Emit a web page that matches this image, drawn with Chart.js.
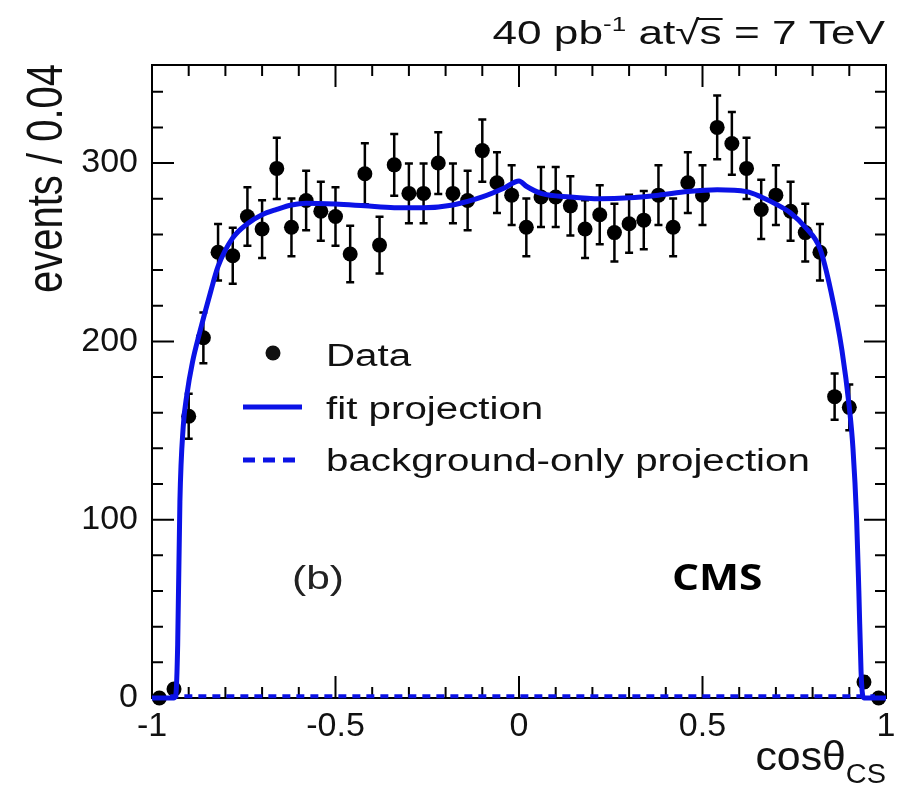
<!DOCTYPE html>
<html>
<head>
<meta charset="utf-8">
<style>
  html, body { margin: 0; padding: 0; background: #fff; }
  canvas { display: block; }
</style>
<script src="https://cdn.jsdelivr.net/npm/chart.js@4.4.1/dist/chart.umd.min.js"></script>
</head>
<body>
<canvas id="c" width="919" height="789"></canvas>
<script>
// ---- data ----
var binCenters = [-0.98, -0.94, -0.90, -0.86, -0.82, -0.78, -0.74, -0.70, -0.66, -0.62,
                  -0.58, -0.54, -0.50, -0.46, -0.42, -0.38, -0.34, -0.30, -0.26, -0.22,
                  -0.18, -0.14, -0.10, -0.06, -0.02, 0.02, 0.06, 0.10, 0.14, 0.18,
                  0.22, 0.26, 0.30, 0.34, 0.38, 0.42, 0.46, 0.50, 0.54, 0.58,
                  0.62, 0.66, 0.70, 0.74, 0.78, 0.82, 0.86, 0.90, 0.94, 0.98];
var dataEvents = [0, 5, 158, 202, 250, 248, 270, 263, 297, 264,
                  279, 273, 270, 249, 294, 254, 299, 283, 283, 300,
                  283, 279, 307, 289, 282, 264, 281, 281, 276, 263,
                  271, 261, 266, 268, 282, 264, 289, 282, 320, 311,
                  297, 274, 282, 273, 261, 250, 169, 163, 9, 0];
var dataErrors = [0, 2.2, 12.6, 14.2, 15.8, 15.7, 16.4, 16.2, 17.2, 16.2,
                  16.7, 16.5, 16.4, 15.8, 17.1, 15.9, 17.3, 16.8, 16.8, 17.3,
                  16.8, 16.7, 17.5, 17.0, 16.8, 16.2, 16.8, 16.8, 16.6, 16.2,
                  16.5, 16.2, 16.3, 16.4, 16.8, 16.2, 17.0, 16.8, 17.9, 17.6,
                  17.2, 16.6, 16.8, 16.5, 16.2, 15.8, 13.0, 12.8, 3.0, 0];

var fitX = [-1, -0.94, -0.935, -0.93, -0.924, -0.915, -0.905, -0.89, -0.87, -0.84, -0.82,
            -0.78, -0.74, -0.70, -0.66, -0.62, -0.58, -0.50, -0.42, -0.34, -0.26,
            -0.18, -0.10, -0.04, 0, 0.02, 0.06, 0.14, 0.22, 0.30, 0.38,
            0.46, 0.54, 0.62, 0.66, 0.70, 0.74, 0.78, 0.82, 0.85, 0.88,
            0.90, 0.91, 0.92, 0.926, 0.932, 0.936, 0.94, 1];
var fitY = [0, 0, 2, 30, 110, 152, 170, 188, 205, 228, 242,
            258, 266, 271, 274, 276.5, 277.5, 277, 276, 275, 275,
            276.5, 281, 286, 290, 287, 283, 281, 280, 280.5, 282,
            284, 285, 284, 281, 277, 272, 264, 252, 228, 195,
            163, 140, 100, 60, 15, 2, 0, 0];

var bgX = [-0.95, 0.97];
var bgY = [1, 1];

var xTicks = [-1, -0.5, 0, 0.5, 1];
var yTicks = [0, 100, 200, 300];

var BLUE = '#0b12e6';
var FONT = '"Liberation Sans", Arial, Helvetica, sans-serif';

function pts(xs, ys) {
    return xs.map(function(x, i) { return { x: x, y: ys[i] }; });
}

// text drawn a bit wider than the font, as in the original figure
function wideText(ctx, text, x, y, font, sx) {
    ctx.save();
    ctx.font = font;
    ctx.translate(x, y);
    ctx.scale(sx, 1);
    ctx.fillText(text, 0, 0);
    var w = ctx.measureText(text).width * sx;
    ctx.restore();
    return w;
}
function textWidth(ctx, text, font, sx) {
    ctx.font = font;
    return ctx.measureText(text).width * sx;
}

// ---- frame, inner ticks, error bars, texts ----
var rootStyle = {
    id: 'rootStyle',
    beforeDatasetsDraw: function(chart) {
        var ctx = chart.ctx, a = chart.chartArea;
        var xs = chart.scales.x, ys = chart.scales.y;
        ctx.save();
        ctx.strokeStyle = '#000';
        ctx.lineWidth = 2;
        ctx.strokeRect(a.left, a.top, a.right - a.left, a.bottom - a.top);
        ctx.beginPath();
        for (var i = 0; i <= 20; i++) {
            var px = xs.getPixelForValue(-1 + i * 0.1);
            var len = (i % 5 === 0) ? 22 : 11;
            ctx.moveTo(px, a.bottom); ctx.lineTo(px, a.bottom - len);
            ctx.moveTo(px, a.top); ctx.lineTo(px, a.top + len);
        }
        for (var j = 0; j * 20 <= ys.max; j++) {
            var py = ys.getPixelForValue(j * 20);
            var l2 = (j % 5 === 0) ? 22 : 11;
            ctx.moveTo(a.left, py); ctx.lineTo(a.left + l2, py);
            ctx.moveTo(a.right, py); ctx.lineTo(a.right - l2, py);
        }
        ctx.stroke();

        // error bars
        ctx.lineWidth = 2.5;
        ctx.beginPath();
        binCenters.forEach(function(x, k) {
            var e = dataErrors[k];
            if (!e) return;
            var cx = xs.getPixelForValue(x);
            var y1 = ys.getPixelForValue(dataEvents[k] - e);
            var y2 = ys.getPixelForValue(dataEvents[k] + e);
            ctx.moveTo(cx, y1); ctx.lineTo(cx, y2);
            ctx.moveTo(cx - 4, y1); ctx.lineTo(cx + 4, y1);
            ctx.moveTo(cx - 4, y2); ctx.lineTo(cx + 4, y2);
        });
        ctx.stroke();
        ctx.restore();
    },
    afterDraw: function(chart) {
        var ctx = chart.ctx;
        ctx.save();
        ctx.fillStyle = '#111';
        ctx.textBaseline = 'alphabetic';
        var SX = 1.3;

        // top label: 40 pb^-1 at sqrt(s) = 7 TeV
        var big = '34px ' + FONT, small = '20px ' + FONT;
        var parts = [
            { t: '40 pb', f: big, dy: 0 },
            { t: '-1', f: small, dy: -13 },
            { t: ' at', f: big, dy: 0 },
            { t: '\u221A', f: big, dy: 0, sqrt: true },
            { t: 's = 7 TeV', f: big, dy: 0 }
        ];
        var total = 0;
        parts.forEach(function(p) { p.w = textWidth(ctx, p.t, p.f, SX); total += p.w; });
        var x = 885 - total, base = 44;
        parts.forEach(function(p) {
            wideText(ctx, p.t, x, base + p.dy, p.f, SX);
            if (p.sqrt) {
                var sw = textWidth(ctx, 's', big, SX);
                ctx.fillRect(x + p.w - 2, base - 26, sw + 3, 2);
            }
            x += p.w;
        });

        // x title cos(theta)_CS
        var tf = '40px ' + FONT, sf = '27px ' + FONT;
        var w1 = textWidth(ctx, 'cos\u03B8', tf, 1.07);
        var w2 = textWidth(ctx, 'CS', sf, 1.07);
        var xs0 = 886 - w1 - w2;
        wideText(ctx, 'cos\u03B8', xs0, 770, tf, 1.07);
        wideText(ctx, 'CS', xs0 + w1, 783, sf, 1.07);

        // y title
        ctx.save();
        ctx.translate(62, 64);
        ctx.rotate(-Math.PI / 2);
        ctx.scale(1, 1.25);
        ctx.font = '40px ' + FONT;
        ctx.textAlign = 'right';
        ctx.fillText('events / 0.04', 0, 0);
        ctx.restore();

        // legend
        ctx.beginPath();
        ctx.arc(273, 353, 7.5, 0, Math.PI * 2);
        ctx.fill();
        ctx.strokeStyle = BLUE;
        ctx.lineWidth = 5;
        ctx.beginPath();
        ctx.moveTo(243, 407); ctx.lineTo(302, 407);
        ctx.stroke();
        ctx.setLineDash([12, 8]);
        ctx.beginPath();
        ctx.moveTo(243, 460); ctx.lineTo(302, 460);
        ctx.stroke();
        ctx.setLineDash([]);
        var lf = '31px ' + FONT;
        wideText(ctx, 'Data', 326, 366, lf, SX);
        wideText(ctx, 'fit projection', 326, 419, lf, SX);
        wideText(ctx, 'background-only projection', 326, 471, lf, SX);

        // panel label and experiment
        ctx.fillStyle = '#222';
        wideText(ctx, '(b)', 292, 589, '34px ' + FONT, 1.25);
        ctx.fillStyle = '#000';
        wideText(ctx, 'CMS', 672, 590, 'bold 36px "Open Sans", ' + FONT, 1.18);
        ctx.restore();
    }
};

var chart = new Chart(document.getElementById('c').getContext('2d'), {
    type: 'scatter',
    data: {
        datasets: [
            {
                label: 'background-only projection',
                data: pts(bgX, bgY),
                showLine: true,
                borderColor: BLUE,
                borderWidth: 4,
                borderDash: [8, 6],
                pointRadius: 0,
                clip: false
            },
            {
                label: 'fit projection',
                data: pts(fitX, fitY),
                showLine: true,
                borderColor: BLUE,
                borderWidth: 5,
                cubicInterpolationMode: 'monotone',
                pointRadius: 0,
                clip: false
            },
            {
                label: 'Data',
                data: pts(binCenters, dataEvents),
                showLine: false,
                pointRadius: 7.5,
                pointBackgroundColor: '#000',
                pointBorderColor: '#000',
                pointBorderWidth: 0,
                clip: false
            }
        ]
    },
    options: {
        responsive: false,
        animation: false,
        layout: { padding: { left: 0, right: 33, top: 65, bottom: 0 } },
        plugins: { legend: { display: false }, tooltip: { enabled: false } },
        scales: {
            x: {
                type: 'linear',
                min: -1, max: 1,
                grid: { display: false, drawTicks: false },
                border: { display: false },
                afterBuildTicks: function(s) { s.ticks = xTicks.map(function(v) { return { value: v }; }); },
                afterFit: function(s) { s.height = 91; },
                ticks: {
                    padding: 8,
                    color: '#111',
                    maxRotation: 0,
                    font: { family: FONT, size: 34 },
                    callback: function(v) { return String(v); }
                }
            },
            y: {
                min: 0, max: 355,
                grid: { display: false, drawTicks: false },
                border: { display: false },
                afterBuildTicks: function(s) { s.ticks = yTicks.map(function(v) { return { value: v }; }); },
                afterFit: function(s) { s.width = 152; },
                ticks: {
                    padding: 14,
                    color: '#111',
                    font: { family: FONT, size: 34 },
                    callback: function(v) { return String(v); }
                }
            }
        }
    },
    plugins: [rootStyle]
});
</script>
</body>
</html>
